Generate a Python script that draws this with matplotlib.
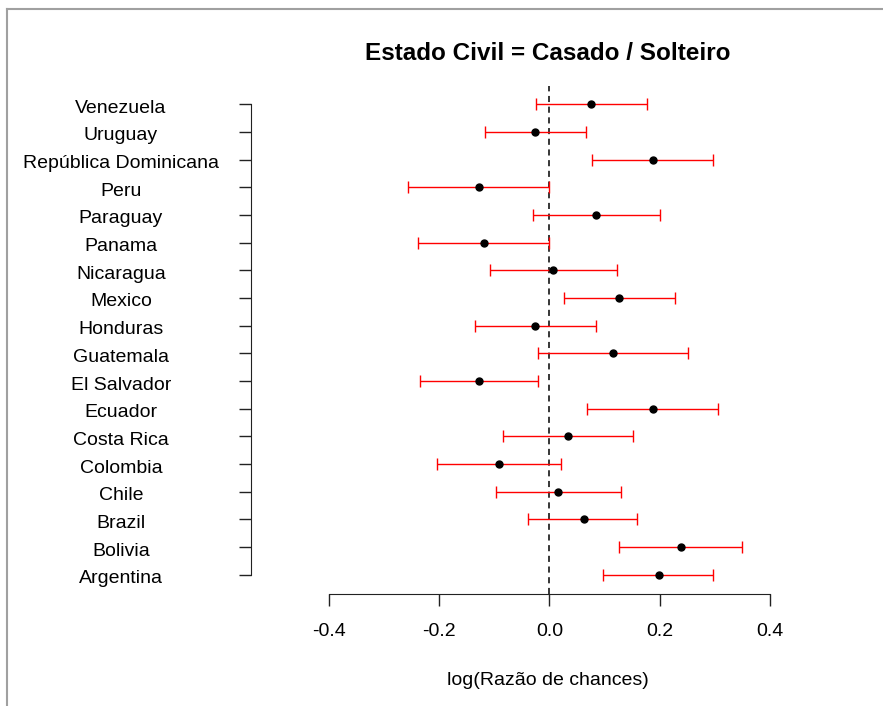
import matplotlib.pyplot as plt
import matplotlib.transforms as mtransforms
import numpy as np

# dados (ordem de baixo para cima)
paises = ["Argentina", "Bolivia", "Brazil", "Chile", "Colombia", "Costa Rica",
          "Ecuador", "El Salvador", "Guatemala", "Honduras", "Mexico", "Nicaragua",
          "Panama", "Paraguay", "Peru", "República Dominicana", "Uruguay", "Venezuela"]
estimativa = [0.198, 0.239, 0.062, 0.016, -0.092, 0.034,
              0.187, -0.127, 0.115, -0.026, 0.126, 0.007,
              -0.118, 0.085, -0.127, 0.187, -0.026, 0.076]
inferior = [0.097, 0.126, -0.038, -0.097, -0.203, -0.084,
            0.069, -0.235, -0.021, -0.134, 0.027, -0.108,
            -0.238, -0.030, -0.256, 0.078, -0.117, -0.025]
superior = [0.297, 0.350, 0.158, 0.130, 0.021, 0.152,
            0.306, -0.021, 0.251, 0.085, 0.228, 0.122,
            0.000, 0.201, 0.000, 0.297, 0.067, 0.177]
xticks = [-0.4, -0.2, 0.0, 0.2, 0.4]

plt.rcParams["font.family"] = ["Liberation Sans", "DejaVu Sans"]

fig = plt.figure(figsize=(8.83, 7.06), dpi=100)
ax = fig.add_axes([251 / 883, 1 - 593.5 / 706, (845 - 251) / 883, (593.5 - 85.5) / 706])

y = np.arange(1, len(paises) + 1)
est = np.array(estimativa)
lo = np.array(inferior)
hi = np.array(superior)

ax.errorbar(est, y, xerr=[est - lo, hi - est], fmt="none", ecolor="red",
            elinewidth=1.0, capsize=4.3, capthick=1.0, zorder=2)
ax.plot(est, y, "o", color="black", markersize=5, zorder=3)
ax.axvline(0, color="black", linestyle=(0, (4, 3)), linewidth=1.1, zorder=1)

ax.set_xlim(-0.541, 0.536)
ax.set_ylim(0.32, 18.68)

for s in ["top", "right"]:
    ax.spines[s].set_visible(False)
ax.spines["left"].set_bounds(1, len(paises))
ax.spines["bottom"].set_bounds(xticks[0], xticks[-1])
ax.spines["left"].set_color("#222222")
ax.spines["bottom"].set_color("#222222")

ax.set_xticks(xticks)
ax.set_xticklabels(["%.1f" % v for v in xticks], fontsize=14)
ax.set_yticks(y)
ax.set_yticklabels(paises, fontsize=14, ha="center")
ax.tick_params(axis="x", length=8.6, width=1, pad=13, colors="#222222", labelcolor="black")
ax.tick_params(axis="y", length=8.6, width=1, pad=85, colors="#222222", labelcolor="black")

# rotulos do eixo y um pouco mais abaixo, como no original
desloc = mtransforms.ScaledTranslation(0, -2 / 100, fig.dpi_scale_trans)
for lab in ax.get_yticklabels():
    lab.set_transform(lab.get_transform() + desloc)

ax.set_xlabel("log(Razão de chances)", fontsize=14, labelpad=23)
ax.set_title("Estado Civil = Casado / Solteiro", fontsize=17.5, fontweight="bold", pad=18.5)

# moldura cinza da captura (topo e esquerda)
fig.add_artist(plt.Line2D([7 / 883, 1], [1 - 9 / 706, 1 - 9 / 706], color="#a0a0a0", linewidth=1.5))
fig.add_artist(plt.Line2D([7 / 883, 7 / 883], [0, 1 - 9 / 706], color="#a0a0a0", linewidth=1.5))

fig.savefig("out.png", dpi=100)
